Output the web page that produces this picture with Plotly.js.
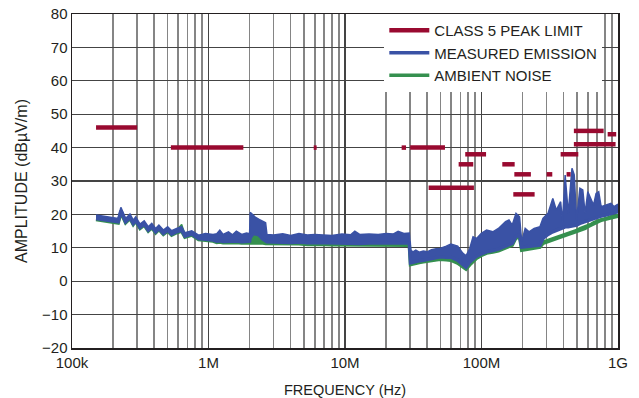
<!DOCTYPE html>
<html>
<head>
<meta charset="utf-8">
<script src="https://cdn.plot.ly/plotly-3.0.1.min.js"></script>
<style>
html,body{margin:0;padding:0;background:#fff;}
#chart{width:639px;height:398px;}
</style>
</head>
<body>
<div id="chart"></div>
<script>
// ---- Data (frequencies in MHz, amplitudes in dBµV/m) ----
var freqMHz = [0.15,0.218,0.228,0.247,0.266,0.281,0.293,0.315,0.338,0.362,0.384,0.41,0.433,0.467,0.502,0.537,0.584,0.636,0.672,0.754,0.846,0.95,1.08,
  1.15,1.21,1.28,1.4,1.5,1.6,1.75,1.9,2.0,2.02,2.1,2.2,2.35,2.5,2.62,2.68,3.0,3.5,4.0,4.6,5.3,6.0,7.0,8.0,9.5,11.0,11.8,12.8,15,17.5,20,22.5,24.5,27,29.6,
  30.2,31.5,33,35,37.5,40,43,46.5,49.7,55.2,59.6,66.9,72.9,77,82,86.7,92,99.7,109,121,133,150,159,168,179,190,197,209,223,243,268,
  282,307,333,353,380,392,410,432,460,478,497,526,552,574,601,632,662,691,722,752,812,887,937,1000];

var measuredUpper = [19.8,18.8,22.1,18.8,20.1,18.3,19.3,17.1,18.1,16.3,17.3,15.8,16.8,15.3,16.3,15.1,15.8,16.3,14.5,15.1,13.8,14.3,14.0,
  14.2,15.3,14.0,14.8,13.9,15.0,14.0,14.4,14.2,20.6,20.0,19.2,18.5,17.8,17.5,14.0,13.8,14.2,13.7,14.3,13.8,14.0,13.9,13.7,14.1,13.9,15.0,14.0,14.1,14.0,14.3,14.1,14.9,14.3,14.4,
  9.3,8.8,9.3,8.7,9.0,8.8,9.4,9.7,9.8,10.5,11.1,10.5,8.4,7.6,9.8,13.3,12.8,14.3,15.3,14.8,15.8,17.8,18.3,16.8,20.3,19.3,11.8,15.8,14.8,15.8,16.3,
  18.8,20.3,24.8,21.3,23.8,17.8,31.8,20.3,33.8,31.8,18.3,27.8,27.3,20.3,26.8,24.8,22.8,26.3,26.8,22.3,22.8,23.3,22.3,23.1];

var measuredLower = [18.8,17.8,21.1,17.8,19.1,17.3,18.3,16.1,17.1,15.3,16.3,14.8,15.8,14.3,15.3,14.1,14.8,15.3,13.5,14.1,12.8,12.6,12.3,
  12.0,12.1,11.9,12.0,11.9,12.0,11.8,11.9,12.0,13.0,14.0,14.3,13.8,12.6,12.2,11.8,11.7,11.6,11.6,11.7,11.5,11.6,11.5,11.4,11.4,11.3,11.4,11.3,11.4,11.4,11.5,11.5,11.6,11.5,11.4,
  5.5,5.6,5.9,6.1,6.3,6.5,6.8,7.1,7.3,7.2,7.2,6.3,5.2,4.2,5.8,6.8,7.5,8.2,8.8,9.2,9.6,10.5,10.9,11.3,13.5,13.8,10.2,10.3,10.4,10.5,10.8,
  12.8,14.0,14.8,15.2,15.8,16.0,16.3,16.3,16.5,16.6,16.8,17.3,17.6,17.9,18.3,18.6,18.9,19.1,19.3,19.5,19.8,20.3,20.5,20.8];

var ambientUpper = [19.3,18.3,21.2,18.3,19.6,17.8,18.8,16.6,17.6,15.8,16.8,15.3,16.3,14.8,15.8,14.6,15.3,17.0,14.0,14.6,13.3,13.0,12.8,
  12.8,12.8,12.6,12.7,12.6,12.7,12.5,12.5,12.6,12.8,13.8,14.0,13.5,12.6,12.4,12.4,12.3,12.2,12.1,12.5,12.1,12.2,12.0,11.9,12.0,11.9,12.0,11.9,12.0,11.9,12.0,12.0,12.1,12.0,11.9,
  6.0,6.0,6.3,6.5,6.7,6.9,7.2,7.4,7.6,7.6,7.5,6.6,5.6,4.6,6.0,7.0,7.8,8.5,9.0,9.4,9.8,10.7,11.0,11.5,13.8,14.0,10.2,10.5,10.6,10.7,11.0,
  12.0,12.5,13.0,13.3,13.8,14.0,14.3,14.6,15.0,15.2,15.5,16.0,16.3,16.6,17.0,17.3,17.8,18.0,18.4,18.7,19.0,19.6,19.8,20.0];

var ambientLower = [18.5,17.4,20.6,17.5,18.8,17.0,18.0,15.8,16.8,15.0,16.0,14.5,15.5,14.0,15.0,13.8,14.5,15.0,13.2,13.8,12.5,12.3,12.0,
  11.6,11.7,11.5,11.6,11.5,11.6,11.4,11.5,11.5,11.6,11.5,11.4,11.5,11.4,11.3,11.3,11.2,11.1,11.1,11.2,11.0,11.1,11.0,10.9,10.9,10.8,10.8,10.8,10.8,10.9,10.9,10.9,11.0,10.9,10.8,
  5.0,5.1,5.4,5.6,5.8,6.0,6.3,6.5,6.6,6.4,6.3,5.4,4.3,3.6,4.9,5.8,6.9,7.7,8.4,8.7,9.1,10.0,10.4,10.8,13.0,13.3,9.3,9.5,9.6,9.8,10.2,
  11.3,11.8,12.2,12.6,13.0,13.3,13.6,14.0,14.4,14.6,14.9,15.3,15.6,15.8,16.3,16.8,17.3,17.6,17.9,18.2,18.6,19.1,19.3,19.5];

// Class 5 peak limit segments (MHz start, MHz end, level dBµV/m)
var limitStart = [0.15, 0.53, 5.9, 26, 30, 41, 68, 76, 142, 174, 171, 300, 420, 380, 475, 475, 840];
var limitEnd   = [0.30, 1.8, 6.2, 28, 54, 88, 87, 108, 175, 230, 245, 330, 450, 512, 785, 960, 970];
var limitLevel = [46, 40, 40, 40, 40, 28, 35, 38, 35, 32, 26, 32, 32, 38, 45, 41, 44];

var tickFreqs = [1e5, 1e6, 1e7, 1e8, 1e9];
var tickLabels = ['100k', '1M', '10M', '100M', '1G'];

var seriesNames = ['CLASS 5 PEAK LIMIT', 'MEASURED EMISSION', 'AMBIENT NOISE'];
var seriesColors = ['#990a30', '#3a52a5', '#35904f'];

// ---- Build traces ----
function hz(arr){ return arr.map(function(v){ return v * 1e6; }); }
var fHz = hz(freqMHz);

var limX = [], limY = [];
for (var i = 0; i < limitStart.length; i++) {
  limX.push(limitStart[i] * 1e6, limitEnd[i] * 1e6, null);
  limY.push(limitLevel[i], limitLevel[i], null);
}

var minorVals = [];
for (var d = 5; d < 9; d++) {
  for (var k = 2; k <= 9; k++) minorVals.push(k * Math.pow(10, d));
}

var FONT = '"Liberation Sans", Arial, sans-serif';
var INK = '#231f20';

var traces = [
  {x: fHz, y: ambientLower, type: 'scatter', mode: 'lines', name: seriesNames[2],
   line: {color: seriesColors[2], width: 3.5}, legendrank: 3, showlegend: true, hoverinfo: 'skip'},
  {x: fHz, y: ambientUpper, type: 'scatter', mode: 'lines', name: seriesNames[2],
   line: {color: seriesColors[2], width: 1.5}, fill: 'tonexty', fillcolor: seriesColors[2], showlegend: false, hoverinfo: 'skip'},
  {x: fHz, y: measuredLower, type: 'scatter', mode: 'lines', name: seriesNames[1],
   line: {color: seriesColors[1], width: 3.5}, legendrank: 2, showlegend: true, hoverinfo: 'skip'},
  {x: fHz, y: measuredUpper, type: 'scatter', mode: 'lines', name: seriesNames[1],
   line: {color: seriesColors[1], width: 1.5}, fill: 'tonexty', fillcolor: seriesColors[1], showlegend: false, hoverinfo: 'skip'},
  {x: limX, y: limY, type: 'scatter', mode: 'lines', name: seriesNames[0], connectgaps: false,
   line: {color: seriesColors[0], width: 4.5}, legendrank: 1, showlegend: true, hoverinfo: 'skip'}
];

var layout = {
  width: 639, height: 398,
  margin: {l: 72, r: 21, t: 14, b: 50, pad: 0, autoexpand: false},
  paper_bgcolor: '#ffffff', plot_bgcolor: '#ffffff',
  font: {family: FONT, size: 15, color: INK},
  showlegend: true,
  legend: {x: 0.572, xanchor: 'left', y: 1.0, yanchor: 'top', bgcolor: '#ffffff', borderwidth: 0,
           font: {family: FONT, size: 15, color: INK}, itemwidth: 40, tracegroupgap: 0,
           traceorder: 'normal'},
  xaxis: {
    type: 'log', range: [5, 9], automargin: false,
    tickvals: tickFreqs, ticktext: tickLabels, ticks: '',
    showgrid: true, gridcolor: '#444444', gridwidth: 1.3,
    minor: {tickvals: minorVals, showgrid: true, gridcolor: '#858585', gridwidth: 1.6, ticks: ''},
    showline: true, mirror: true, linecolor: INK, linewidth: 1.5,
    zeroline: false,
    tickfont: {family: FONT, size: 15, color: INK},
    title: {text: 'FREQUENCY (Hz)', font: {family: FONT, size: 14.5, color: INK}, standoff: 17}
  },
  yaxis: {
    range: [-20, 80], dtick: 10, tick0: 0, ticks: '', automargin: false,
    showgrid: true, gridcolor: '#444444', gridwidth: 1.2,
    showline: true, mirror: true, linecolor: INK, linewidth: 1.5,
    zeroline: false,
    tickfont: {family: FONT, size: 15, color: INK},
    title: {text: 'AMPLITUDE (dBµV/m)', font: {family: FONT, size: 16, color: INK}, standoff: 10}
  },
  annotations: [{
    text: 'DC1111A DEMO BOARD', xref: 'paper', yref: 'paper', x: 0, y: -0.1407,
    xanchor: 'left', yanchor: 'top', showarrow: false,
    font: {family: FONT, size: 15, color: '#aaaaaa'}
  }]
};

Plotly.newPlot('chart', traces, layout, {staticPlot: true, displayModeBar: false});
</script>
</body>
</html>
